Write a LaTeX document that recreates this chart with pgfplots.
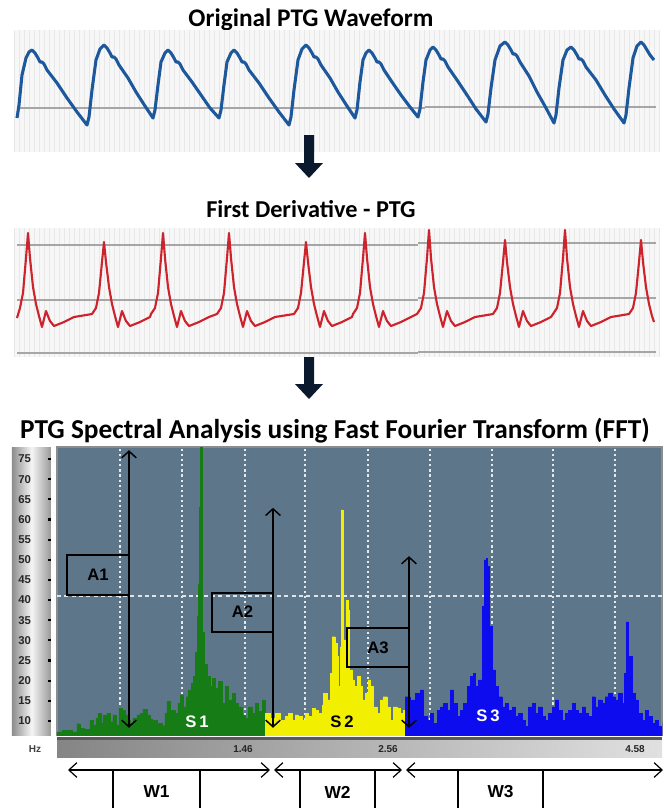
\documentclass[border=0pt]{standalone}
\usepackage{fontspec}
\setmainfont{Carlito}
\newfontfamily\arialf{Liberation Sans}
\usepackage{pgfplots}
\pgfplotsset{compat=1.18}
\usetikzlibrary{arrows.meta}
\definecolor{fftbg}{RGB}{93,118,138}
\definecolor{sgreen}{RGB}{22,125,22}
\definecolor{syellow}{RGB}{242,240,0}
\definecolor{sblue}{RGB}{12,12,238}
\definecolor{wblue}{RGB}{28,88,155}
\definecolor{wred}{RGB}{205,35,45}
\definecolor{navy}{RGB}{10,25,45}
\begin{document}
\begin{tikzpicture}
\begin{scope}[x=0.75pt,y=-0.75pt]
\path[use as bounding box] (0,0) rectangle (666,808);
% titles
\node[font=\bfseries\fontsize{19}{21}\selectfont] at (311,20) {Original PTG Waveform};
\node[font=\bfseries\fontsize{18.2}{20}\selectfont] at (311,209) {First Derivative - PTG};
\node[font=\bfseries\fontsize{20.5}{22}\selectfont] at (335,431) {PTG Spectral Analysis using Fast Fourier Transform (FFT)};
% Hz bar
\shade[left color=black!48, right color=black!12] (57,738) rectangle (662,757);
\fill[black!65] (57,737) rectangle (662,740);
\node[font=\arialf\bfseries\fontsize{7.5}{8}\selectfont, text=black!75] at (35,749) {Hz};
% W arrows
\draw[line width=0.9pt, {Straight Barb[length=6pt,width=11pt]}-{Straight Barb[length=6pt,width=11pt]}] (68,770) -- (270,770);
\draw[line width=0.9pt, {Straight Barb[length=6pt,width=11pt]}-{Straight Barb[length=6pt,width=11pt]}] (274,770) -- (402,770);
\draw[line width=0.9pt, {Straight Barb[length=6pt,width=11pt]}-{Straight Barb[length=6pt,width=11pt]}] (406,770) -- (663,770);
\draw[line width=1pt] (113,815) -- (113,770) -- (200,770) -- (200,815);
\draw[line width=1pt] (300,815) -- (300,770) -- (375,770) -- (375,815);
\draw[line width=1pt] (458,815) -- (458,770) -- (543,770) -- (543,815);
\node[font=\arialf\bfseries\fontsize{13}{14}\selectfont] at (156.5,792) {W1};
\node[font=\arialf\bfseries\fontsize{13}{14}\selectfont] at (337.5,792) {W2};
\node[font=\arialf\bfseries\fontsize{13}{14}\selectfont] at (500.5,792) {W3};
\end{scope}

% Panel 1: original waveform
\begin{axis}[at={(10.5pt,-22.5pt)}, anchor=north west, scale only axis,
  width=484.5pt, height=91.5pt, xmin=14, xmax=660, ymin=30, ymax=152, y dir=reverse,
  axis line style={draw=none}, xtick={14,19,...,659}, xticklabels={}, ytick=\empty,
  major tick length=0pt, xmajorgrids, major grid style={black!9, line width=0.5pt},
  axis background/.style={fill=black!3}]
\addplot[black!35, line width=1.6pt] coordinates {(17,108) (425,108)};
\addplot[black!35, line width=1.6pt] coordinates {(425,106.7) (656,106.7)};
\addplot[wblue, line width=2.3pt, line join=round] coordinates {
(17,118) (19,105) (22,75) (26,58) (29,52) (32,50) (35,53) (38,58) (40,62) (42,62) (44,64) (47,70) (57,83) (67,98) (77,112) (87,125)
(89,117) (92,90) (96,60) (100,49) (104,45) (107,48) (110,53) (112,57) (114,57) (116,59) (119,65) (128,78) (136,92) (145,106) (153,118)
(155,110) (158,85) (161,62) (165,53) (168,50) (171,53) (174,58) (176,62) (178,62) (180,64) (183,70) (192,82) (201,95) (210,108) (219,118)
(221,110) (224,85) (227,62) (231,53) (234,50) (237,53) (240,58) (242,62) (244,62) (246,64) (249,70) (259,83) (269,98) (279,112) (289,125)
(291,117) (294,90) (298,60) (302,49) (306,45) (309,48) (312,53) (314,57) (316,57) (318,59) (321,65) (330,78) (338,92) (347,106) (355,118)
(357,110) (360,82) (363,60) (366,53) (369,50) (372,53) (375,58) (377,62) (379,62) (381,64) (384,70) (392,82) (401,95) (410,107) (418,117)
(420,109) (423,82) (426,60) (430,50) (433,47) (436,50) (439,55) (441,59) (443,59) (445,61) (448,67) (457,80) (467,95) (476,109) (486,122)
(488,114) (491,88) (495,60) (500,46) (505,42) (508,45) (511,50) (513,54) (515,54) (517,56) (520,62) (529,76) (537,92) (546,108) (554,123)
(556,115) (559,88) (563,60) (567,50) (571,47) (574,50) (577,55) (579,59) (581,59) (583,61) (586,67) (596,80) (605,95) (614,109) (624,123)
(626,115) (629,88) (633,58) (637,46) (641,42) (644,45) (647,50) (650,55) (654,60)};
\end{axis}

% Panel 2: first derivative
\begin{axis}[at={(10.5pt,-171pt)}, anchor=north west, scale only axis,
  width=484.5pt, height=96.75pt, xmin=14, xmax=660, ymin=228, ymax=357, y dir=reverse,
  axis line style={draw=none}, xtick={14,19,...,659}, xticklabels={}, ytick=\empty,
  major tick length=0pt, xmajorgrids, major grid style={black!9, line width=0.5pt},
  axis background/.style={fill=black!3}]
\addplot[black!35, line width=1.5pt] coordinates {(17,245) (418,245)};
\addplot[black!35, line width=1.5pt] coordinates {(418,243) (656,243)};
\addplot[black!35, line width=1.5pt] coordinates {(17,300) (418,300)};
\addplot[black!35, line width=1.5pt] coordinates {(418,298) (656,298)};
\addplot[black!35, line width=1.5pt] coordinates {(17,353) (418,353)};
\addplot[black!35, line width=1.5pt] coordinates {(418,351.5) (656,351.5)};
\addplot[wred, line width=1.6pt, line join=round] coordinates {
(17,318) (20,308) (23,293) (26,258) (28,233) (30,258) (33,287) (36,304) (39,316) (42,327) (46,311) (50,321) (54,326) (64,322) (74,317)
(92,314) (96,308) (99,293) (102,262) (104,242) (106,262) (109,287) (112,304) (115,316) (118,327) (122,311) (126,321) (130,326) (140,322) (150,317)
(151,314) (155,308) (158,293) (161,258) (163,233) (165,258) (168,287) (171,304) (174,316) (177,327) (181,311) (185,321) (189,326) (199,322) (209,317)
(217,314) (221,308) (224,293) (227,258) (229,233) (231,258) (234,287) (237,304) (240,316) (243,327) (247,311) (251,321) (255,326) (265,322) (275,317)
(294,314) (298,308) (301,293) (304,262) (306,242) (308,262) (311,287) (314,304) (317,316) (320,327) (324,311) (328,321) (332,326) (342,322) (352,317)
(353,314) (357,308) (360,293) (363,258) (365,233) (367,258) (370,287) (373,304) (376,316) (379,327) (383,311) (387,321) (391,326) (401,322) (411,317)
(417,314) (421,308) (424,293) (427,258) (429,230) (431,258) (434,287) (437,304) (440,316) (443,327) (447,311) (451,321) (455,326) (465,322) (475,317)
(493,314) (497,308) (500,293) (503,262) (505,240) (507,262) (510,287) (513,304) (516,316) (519,327) (523,311) (527,321) (531,326) (541,322) (551,317)
(553,314) (557,308) (560,293) (563,258) (565,230) (567,258) (570,287) (573,304) (576,316) (579,327) (583,311) (587,321) (591,326) (601,322) (611,317)
(629,314) (633,308) (636,293) (639,262) (641,240) (643,262) (646,287) (649,304) (652,316) (654,322)};
\end{axis}

% FFT y strip
\begin{axis}[at={(9pt,-335.25pt)}, anchor=north west, scale only axis,
  width=29.25pt, height=216pt, xmin=0, xmax=1, ymin=6.5, ymax=78,
  /pgf/number format/assume math mode=true,
  axis line style={draw=none}, xtick=\empty, ytick={10,15,...,75},
  ytick pos=right, yticklabel pos=left, tick align=inside, major tick length=2.2pt,
  ytick style={black, line width=1.6pt},
  yticklabel style={anchor=center, xshift=9.5pt, font=\arialf\bfseries\fontsize{8.5}{9}\selectfont, text=black!85},
  axis background/.style={left color=black!45, right color=black!40, middle color=black!4}]
\end{axis}

% FFT main plot
\begin{axis}[at={(42.75pt,-335.25pt)}, anchor=north west, scale only axis,
  width=453.75pt, height=216pt, xmin=57, xmax=662, ymin=6.5, ymax=78,
  /pgf/number format/assume math mode=true,
  axis line style={black!45, line width=0.8pt},
  xtick={120,182,245,305,368,430,492,553,615}, xticklabels={},
  extra x ticks={243,388,635}, extra x tick labels={1.46,2.56,4.58},
  extra x tick style={grid=none},
  xticklabel style={yshift=-4pt, font=\arialf\bfseries\fontsize{7.5}{8}\selectfont, text=black!85},
  ytick=\empty, major tick length=0pt,
  xmajorgrids, major grid style={white!85!fftbg, line width=1.4pt, dash pattern=on 1.6pt off 2.2pt},
  axis background/.style={fill=fftbg}, clip=true]
\addplot[white!80!fftbg, line width=1.1pt, dash pattern=on 3pt off 2.5pt] coordinates {(57,41) (662,41)};
\addplot[const plot, fill=sgreen, draw=sgreen, line width=0.3pt] coordinates {
(57,7.3) (62,7.6) (68,7.6) (72,7.3) (77,9.3) (80,8.2) (84,7.9) (90,10.2) (93,9.0) (96,10.7) (98,11.9) (101,9.4) (103,11.5) (107,11.9) (110,9.8) (113,11.5) (116,9.0) (119,13.2) (122,12.7) (125,11.5) (128,10.2) (130,9.4) (133,10.7) (137,11.5) (140,11.9) (143,12.9) (147,11.5) (150,10.5) (152,10.2) (157,9.4) (162,8.8) (165,11.9) (167,14.8) (170,12.7) (175,11.9) (178,14.4) (180,16.5) (183,13.5) (186,16.0) (188,17.7) (191,19.4) (193,21.0) (195,27) (197,36) (198,44) (199,63) (200,80) (202,32) (204,24) (207,21.0) (210,18.5) (212,20.6) (215,18.1) (218,19.8) (222,14.4) (225,18.5) (228,15.2) (232,16.9) (235,14.4) (238,13.5) (242,11.5) (245,10.7) (248,13.5) (252,11.9) (255,14.4) (258,12.3) (262,15.2) (265,15.2)} \closedcycle;
\addplot[const plot, fill=syellow, draw=syellow, line width=0.3pt] coordinates {
(265,11.9) (270,10.7) (275,11.9) (280,10.2) (285,11.1) (288,11.9) (292,10.2) (295,11.5) (298,11.1) (302,10.2) (305,11.9) (308,11.1) (312,13.2) (315,12.7) (318,11.9) (322,14.0) (323,16.9) (327,15.2) (330,21.8) (332,30.9) (335,29.3) (337,26.0) (338,18.5) (340,28.4) (341,62.4) (343,30.1) (346,40.0) (348,37.5) (349,22.7) (352,20.2) (354,18.5) (357,21.0) (360,18.5) (362,15.2) (365,16.9) (368,20.2) (370,18.5) (373,13.5) (377,11.9) (380,15.2) (383,16.0) (387,13.5) (390,10.2) (393,13.5) (397,13.2) (400,11.9) (403,12.7) (405,12.7)} \closedcycle;
\addplot[const plot, fill=sblue, draw=sblue, line width=0.3pt] coordinates {
(405,16.0) (410,15.2) (415,16.9) (420,17.7) (423,11.1) (427,10.2) (430,11.9) (433,9.4) (437,12.7) (440,13.5) (443,14.4) (447,12.7) (450,17.7) (453,14.4) (457,11.1) (460,12.7) (463,14.4) (467,18.5) (470,21.0) (473,21.8) (475,18.5) (478,20.2) (482,38.4) (484,50.0) (486,50.4) (487,48.3) (489,33.4) (492,22.7) (495,18.5) (498,16.0) (502,13.5) (505,14.4) (508,12.7) (512,13.5) (515,11.1) (518,11.9) (522,10.2) (525,8.6) (528,13.5) (532,14.4) (535,11.9) (538,13.5) (542,11.1) (545,10.2) (548,11.9) (552,13.5) (555,15.2) (558,12.7) (562,10.2) (565,11.9) (568,12.7) (572,14.4) (575,12.7) (578,11.9) (582,13.5) (585,11.9) (588,11.1) (592,16.0) (595,13.5) (598,15.2) (602,14.4) (605,16.0) (608,16.9) (612,16.0) (615,15.2) (618,16.9) (622,14.4) (624,21.8) (626,34.6) (628,26.0) (632,16.9) (635,15.2) (638,11.9) (642,10.2) (645,12.7) (648,11.1) (652,9.4) (655,10.2) (658,8.6) (662,9.9)} \closedcycle;
% annotations
\draw[line width=1.1pt, {Straight Barb[length=5pt,width=11pt]}-{Straight Barb[length=5pt,width=11pt]}] (axis cs:129,77.2) -- (axis cs:129,8.3);
\draw[line width=1.1pt] (axis cs:129,51.2) -- (axis cs:67,51.2) -- (axis cs:67,41.3) -- (axis cs:129,41.3);
\node[font=\arialf\bfseries\fontsize{12.5}{13}\selectfont] at (axis cs:98,46.2) {A1};
\draw[line width=1.1pt, {Straight Barb[length=5pt,width=11pt]}-{Straight Barb[length=5pt,width=11pt]}] (axis cs:273,62.9) -- (axis cs:273,8.3);
\draw[line width=1.1pt] (axis cs:273,41.8) -- (axis cs:212,41.8) -- (axis cs:212,32.1) -- (axis cs:273,32.1);
\node[font=\arialf\bfseries\fontsize{12.5}{13}\selectfont] at (axis cs:242.5,37) {A2};
\draw[line width=1.1pt, {Straight Barb[length=5pt,width=11pt]}-{Straight Barb[length=5pt,width=11pt]}] (axis cs:409,50.9) -- (axis cs:409,8.3);
\draw[line width=1.1pt] (axis cs:409,33.1) -- (axis cs:347,33.1) -- (axis cs:347,23.4) -- (axis cs:409,23.4);
\node[font=\arialf\bfseries\fontsize{12.5}{13}\selectfont] at (axis cs:378,28.2) {A3};
\node[font=\arialf\bfseries\fontsize{12.5}{13}\selectfont, text=white] at (axis cs:197,9.9) {S\,1};
\node[font=\arialf\bfseries\fontsize{12.5}{13}\selectfont, text=black] at (axis cs:342,9.9) {S\,2};
\node[font=\arialf\bfseries\fontsize{12.5}{13}\selectfont, text=white] at (axis cs:488,11.3) {S\,3};
\end{axis}

% big arrows
\begin{scope}[x=0.75pt,y=-0.75pt]
\fill[navy] (304,135) -- (314,135) -- (314,163) -- (323,163) -- (309,178) -- (295,163) -- (304,163) -- cycle;
\fill[navy] (304,357) -- (314,357) -- (314,384) -- (323,384) -- (309,399) -- (295,384) -- (304,384) -- cycle;
\end{scope}
\end{tikzpicture}
\end{document}
